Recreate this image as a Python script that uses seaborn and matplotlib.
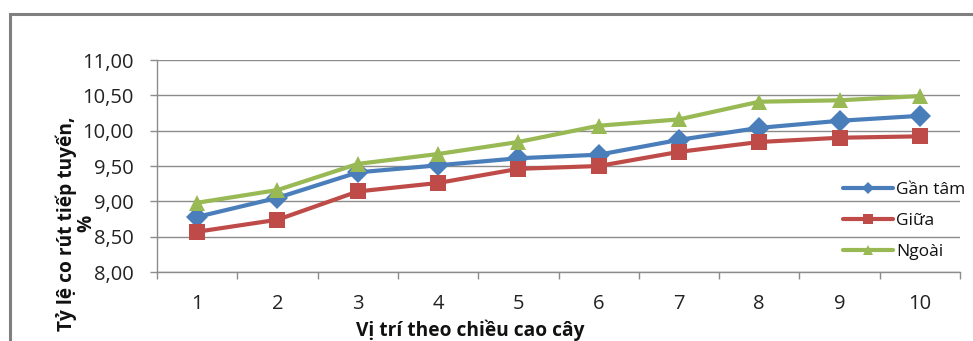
import matplotlib
matplotlib.use("Agg")
import matplotlib.pyplot as plt
import seaborn as sns
import pandas as pd
from matplotlib.patches import Rectangle
from matplotlib.ticker import FixedLocator, FuncFormatter

# Measurement positions along the stem height
positions = [1, 2, 3, 4, 5, 6, 7, 8, 9, 10]

# Tangential shrinkage (%) by radial zone
gan_tam = [8.78, 9.05, 9.41, 9.51, 9.61, 9.66, 9.87, 10.04, 10.14, 10.21]
giua = [8.57, 8.74, 9.14, 9.26, 9.46, 9.50, 9.70, 9.84, 9.90, 9.92]
ngoai = [8.98, 9.16, 9.53, 9.67, 9.84, 10.07, 10.16, 10.41, 10.43, 10.49]

series_names = ["Gần tâm", "Giữa", "Ngoài"]
y_ticks = [8.0, 8.5, 9.0, 9.5, 10.0, 10.5, 11.0]

df = pd.concat([
    pd.DataFrame({"pos": positions, "val": vals, "series": name})
    for name, vals in zip(series_names, [gan_tam, giua, ngoai])
])

sns.set_theme(style="white")
plt.rcParams["font.family"] = ["Open Sans", "DejaVu Sans"]

palette = {"Gần tâm": "#4a7ebb", "Giữa": "#be4b48", "Ngoài": "#98b954"}
markers = {"Gần tâm": "D", "Giữa": "s", "Ngoài": "^"}

fig = plt.figure(figsize=(9.73, 3.41), dpi=100)
ax = fig.add_axes([0.1614, 0.2023, 0.9866 - 0.1614, 0.824 - 0.2023])

sns.lineplot(data=df, x="pos", y="val", hue="series", style="series",
             palette=palette, markers=markers, dashes=False,
             linewidth=3, markersize=11, markeredgewidth=0, ax=ax,
             legend=True)

ax.set_xlim(0.5, 10.5)
ax.set_ylim(8.0, 11.0)

ax.xaxis.set_major_locator(FixedLocator(positions))
ax.xaxis.set_minor_locator(FixedLocator([p + 0.5 for p in [0] + positions]))
ax.set_yticks(y_ticks)
ax.yaxis.set_major_formatter(FuncFormatter(lambda v, _: f"{v:.2f}".replace(".", ",")))

ax.tick_params(axis="x", which="major", length=0, pad=16, labelsize=14.5, labelcolor="#222222")
ax.tick_params(axis="x", which="minor", length=5, width=1, color="#8c8c8c", direction="out", bottom=True)
ax.tick_params(axis="y", which="major", length=5, width=1, color="#8c8c8c", direction="out",
               left=True, pad=12, labelsize=14.5, labelcolor="#222222")

ax.grid(axis="y", color="#8c8c8c", linewidth=1)
ax.grid(axis="x", visible=False)
ax.set_axisbelow(True)
for side in ["top", "right"]:
    ax.spines[side].set_visible(False)
for side in ["left", "bottom"]:
    ax.spines[side].set_color("#8c8c8c")
    ax.spines[side].set_linewidth(1)

ax.set_xlabel("")
ax.set_ylabel("")

fig.text(0.483, 0.03, "Vị trí theo chiều cao cây", ha="center", va="center",
         fontsize=13.8, fontweight="bold", color="#111111")
fig.text(0.078, 0.345, "Tỷ lệ co rút tiếp tuyến,\n%", ha="center", va="center",
         rotation=90, fontsize=13.8, fontweight="bold", color="#111111",
         linespacing=1.0, multialignment="center")

handles, labels = ax.get_legend_handles_labels()
ax.get_legend().remove()
leg = fig.legend(handles, labels, loc="center left", bbox_to_anchor=(0.866, 0.352),
                 frameon=False, fontsize=12.5, handlelength=2.9, handletextpad=0.2,
                 labelspacing=0.85, markerscale=0.6, borderpad=0, borderaxespad=0)
for t in leg.get_texts():
    t.set_color("#111111")

# Chart frame
fig.patches.append(Rectangle((0.0103, -0.1), 1.2, 0.1 + 1 - 14 / 341,
                             transform=fig.transFigure, fill=False,
                             edgecolor="#7f7f7f", linewidth=2.2, zorder=0))

fig.savefig("out.png", dpi=100)
